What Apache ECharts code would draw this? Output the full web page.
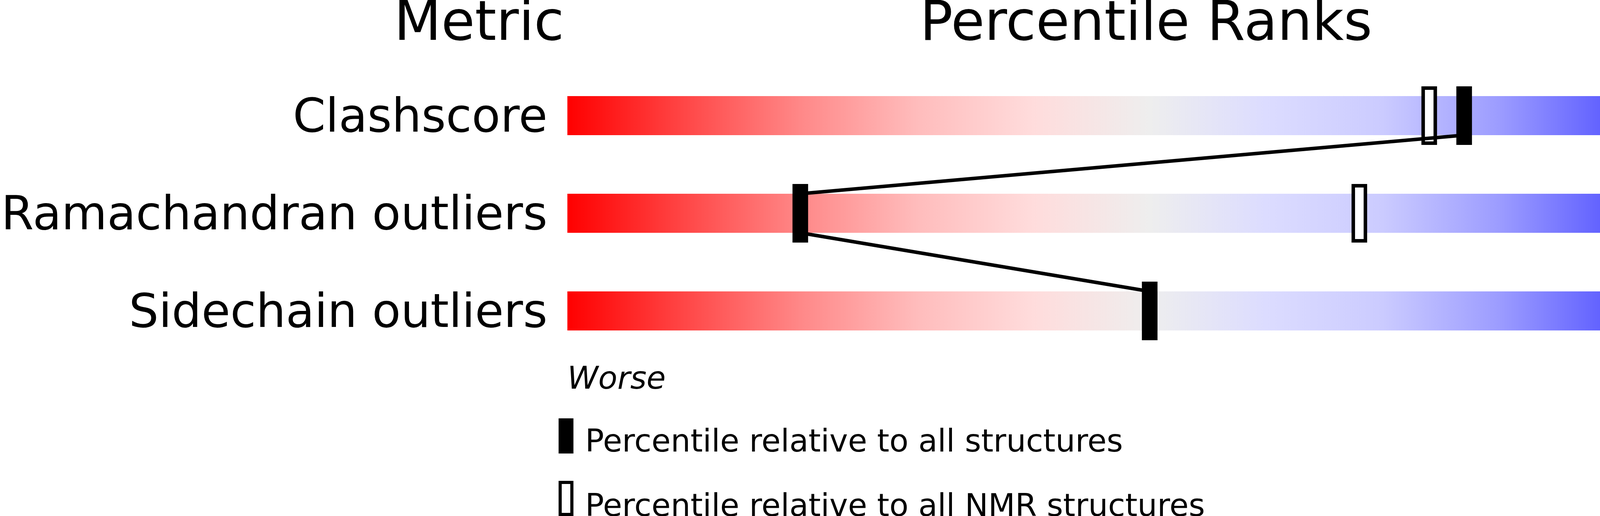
<!DOCTYPE html>
<html>
<head>
<meta charset="utf-8">
<script src="https://cdn.jsdelivr.net/npm/echarts@6/dist/echarts.min.js"></script>
<style>
html,body{margin:0;padding:0;background:#ffffff;}
#chart{width:4823px;height:1321px;}
</style>
</head>
<body>
<div id="chart"></div>
<script>
// ---- data ----
const metrics = ['Clashscore', 'Ramachandran outliers', 'Sidechain outliers'];
const valueLabels = ['3', '1.0%', '2.5%'];
const pctAll = [77, 20, 50];   // percentile relative to all structures
const pctNMR = [74, 68, 91];   // percentile relative to all NMR structures
const headers = ['Metric', 'Percentile Ranks', 'Value'];
const axisEnds = ['Worse', 'Better'];
const legendLabels = ['Percentile relative to all structures', 'Percentile relative to all NMR structures'];

// ---- style ----
const FONT = 'DejaVu Sans';
const gradientStops = [
  { offset: 0.00, color: '#ff0000' },
  { offset: 0.10, color: '#ff4646' },
  { offset: 0.20, color: '#ff8888' },
  { offset: 0.30, color: '#ffbcbc' },
  { offset: 0.40, color: '#ffdcdc' },
  { offset: 0.50, color: '#eeeeee' },
  { offset: 0.60, color: '#dcdcff' },
  { offset: 0.70, color: '#cbcbff' },
  { offset: 0.80, color: '#9c9cff' },
  { offset: 0.90, color: '#5a5aff' },
  { offset: 1.00, color: '#0000ff' }
];

const chart = echarts.init(document.getElementById('chart'), null, { renderer: 'canvas' });

const BAR_FRAC = 0.4;     // track height / band
const MARK_FRAC = 0.6;    // marker height / band
const MARK_W = 40;

function bandH(api) { return api.size([0, 1])[1]; }

const yLabel = { color: '#000', fontFamily: FONT, fontSize: 120, verticalAlign: 'top', lineHeight: 20 };

const option = {
  backgroundColor: '#ffffff',
  animation: false,
  grid: { left: 1434, top: 171, width: 3000, height: 750, containLabel: false },
  xAxis: {
    type: 'value', min: 0, max: 100, interval: 100,
    axisLine: { show: false }, axisTick: { show: false }, splitLine: { show: false },
    axisLabel: {
      show: true, margin: 13, color: '#000', fontFamily: FONT, fontSize: 80, fontStyle: 'italic',
      alignMinLabel: 'left', alignMaxLabel: 'right',
      formatter: v => (v === 0 ? axisEnds[0] : axisEnds[1])
    }
  },
  yAxis: [
    {
      type: 'category', data: metrics, inverse: true, position: 'left',
      axisLine: { show: false }, axisTick: { show: false }, splitLine: { show: false },
      axisLabel: Object.assign({ margin: 51 }, yLabel)
    },
    {
      type: 'category', data: valueLabels, inverse: true, position: 'right',
      axisLine: { show: false }, axisTick: { show: false }, splitLine: { show: false },
      axisLabel: Object.assign({ margin: 50 }, yLabel)
    }
  ],
  series: [
    {
      name: 'track', type: 'custom', z: 1,
      data: metrics.map((_, i) => [100, i]),
      encode: { x: 0, y: 1 },
      renderItem: (params, api) => {
        const i = api.value(1);
        const p0 = api.coord([0, i]);
        const p1 = api.coord([api.value(0), i]);
        const h = bandH(api) * BAR_FRAC;
        return {
          type: 'rect',
          shape: { x: p0[0], y: p0[1] - h / 2, width: p1[0] - p0[0], height: h },
          style: { fill: new echarts.graphic.LinearGradient(0, 0, 1, 0, gradientStops) }
        };
      }
    },
    {
      name: legendLabels[1], type: 'custom', z: 2,
      data: pctNMR.map((v, i) => [v, i]),
      encode: { x: 0, y: 1 },
      renderItem: (params, api) => {
        const p = api.coord([api.value(0), api.value(1)]);
        const h = bandH(api) * MARK_FRAC;
        const lw = 9;
        return {
          type: 'rect',
          shape: { x: p[0] - MARK_W / 2 + lw / 2, y: p[1] - h / 2 + lw / 2, width: MARK_W - lw, height: h - lw },
          style: { fill: '#ffffff', stroke: '#000000', lineWidth: lw }
        };
      }
    },
    {
      name: 'link', type: 'custom', z: 3,
      data: pctAll.map((v, i) => [v, i, i > 0 ? pctAll[i - 1] : v]),
      encode: { x: 0, y: 1 },
      renderItem: (params, api) => {
        const i = api.value(1);
        if (i === 0) return { type: 'group', children: [] };
        const h = bandH(api) * BAR_FRAC;
        const a = api.coord([api.value(2), i - 1]);
        const b = api.coord([api.value(0), i]);
        return {
          type: 'line',
          shape: { x1: a[0], y1: a[1] + h / 2, x2: b[0], y2: b[1] - h / 2 },
          style: { stroke: '#000000', lineWidth: 9 }
        };
      }
    },
    {
      name: legendLabels[0], type: 'custom', z: 4,
      data: pctAll.map((v, i) => [v, i]),
      encode: { x: 0, y: 1 },
      renderItem: (params, api) => {
        const p = api.coord([api.value(0), api.value(1)]);
        const h = bandH(api) * MARK_FRAC;
        return {
          type: 'rect',
          shape: { x: p[0] - MARK_W / 2, y: p[1] - h / 2, width: MARK_W, height: h },
          style: { fill: '#000000' }
        };
      }
    }
  ],
  graphic: [
    { type: 'text', x: 1444, y: 66, style: { text: headers[0], fill: '#000', font: '140px "' + FONT + '"', align: 'right', verticalAlign: 'middle' } },
    { type: 'text', x: 2934, y: 66, style: { text: headers[1], fill: '#000', font: '140px "' + FONT + '"', align: 'center', verticalAlign: 'middle' } },
    { type: 'text', x: 4436, y: 66, style: { text: headers[2], fill: '#000', font: '140px "' + FONT + '"', align: 'left', verticalAlign: 'middle' } },
    { type: 'rect', shape: { x: 1430, y: 1071, width: 38, height: 90 }, style: { fill: '#000' } },
    { type: 'text', x: 1498, y: 1135, style: { text: legendLabels[0], fill: '#000', font: '80px "' + FONT + '"', align: 'left', verticalAlign: 'middle' } },
    { type: 'rect', shape: { x: 1434, y: 1235, width: 30, height: 82 }, style: { fill: '#fff', stroke: '#000', lineWidth: 8 } },
    { type: 'text', x: 1498, y: 1300, style: { text: legendLabels[1], fill: '#000', font: '80px "' + FONT + '"', align: 'left', verticalAlign: 'middle' } }
  ]
};

chart.setOption(option);
</script>
</body>
</html>
